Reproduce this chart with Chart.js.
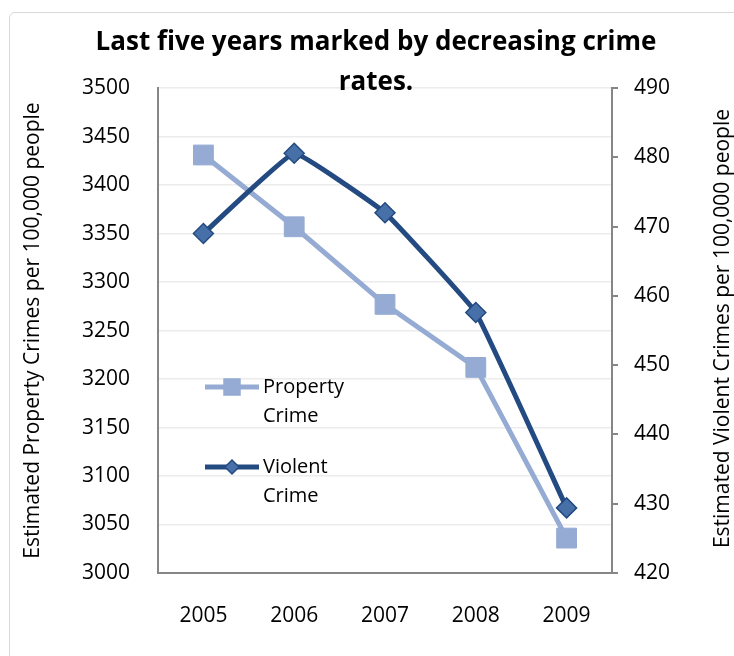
<!DOCTYPE html>
<html>
<head>
<meta charset="utf-8">
<script src="https://cdn.jsdelivr.net/npm/chart.js@4"></script>
<style>
  body { margin: 0; background: #fff; overflow: hidden; }
  .frame { position: absolute; left: 9px; top: 12px; width: 760px; height: 680px;
           border: 1.5px solid #d9d9d9; border-radius: 6px; }
  .wrap { position: absolute; left: 0; top: 0; width: 734px; height: 656px; }
</style>
</head>
<body>
<div class="frame"></div>
<div class="wrap"><canvas id="chart" width="734" height="656"></canvas></div>
<script>
const years = ["2005", "2006", "2007", "2008", "2009"];
const propertyCrime = [3431, 3357, 3277, 3212, 3036];
const violentCrime = [469.0, 480.6, 472.0, 457.6, 429.4];
const titleLines = ["Last five years marked by decreasing crime", "rates."];
const leftTitle = "Estimated Property Crimes per 100,000 people";
const rightTitle = "Estimated Violent Crimes per 100,000 people";

const lightBlue = "#95abd3";
const darkBlue = "#244b81";
const diamondFill = "#4770a9";
const axisGray = "#868686";

Chart.defaults.font.family = "'Open Sans', sans-serif";
Chart.defaults.color = "#000";

// right axis title reads bottom-to-top, and the legend wraps its text
const extras = {
    id: "extras",
    afterDraw(chart) {
        const ctx = chart.ctx;
        const area = chart.chartArea;
        ctx.save();
        ctx.fillStyle = "#000";
        ctx.font = "21px 'Open Sans'";
        ctx.textAlign = "center";
        ctx.textBaseline = "middle";
        ctx.translate(723, (area.top + area.bottom) / 2 - 2);
        ctx.rotate(-Math.PI / 2);
        ctx.fillText(rightTitle, 0, 0);
        ctx.restore();

        const items = [
            { ds: chart.data.datasets[1], y: 387, lines: ["Property", "Crime"] },
            { ds: chart.data.datasets[0], y: 467, lines: ["Violent", "Crime"] }
        ];
        ctx.save();
        items.forEach(it => {
            ctx.strokeStyle = it.ds.borderColor;
            ctx.lineWidth = it.ds.borderWidth;
            ctx.beginPath();
            ctx.moveTo(205, it.y);
            ctx.lineTo(259, it.y);
            ctx.stroke();
            ctx.fillStyle = it.ds.pointBackgroundColor;
            ctx.strokeStyle = it.ds.pointBorderColor;
            ctx.lineWidth = 1.5;
            ctx.beginPath();
            if (it.ds.pointStyle === "rect") {
                ctx.rect(224, it.y - 8, 16, 16);
            } else {
                ctx.moveTo(232 - 7, it.y);
                ctx.lineTo(232, it.y - 7);
                ctx.lineTo(232 + 7, it.y);
                ctx.lineTo(232, it.y + 7);
                ctx.closePath();
            }
            ctx.fill();
            ctx.stroke();
            ctx.fillStyle = "#000";
            ctx.font = "20px 'Open Sans'";
            ctx.textAlign = "left";
            ctx.textBaseline = "middle";
            it.lines.forEach((t, i) => ctx.fillText(t, 263, it.y + i * 29));
        });
        ctx.restore();
    }
};

new Chart(document.getElementById("chart"), {
    type: "line",
    data: {
        labels: years,
        datasets: [
            {
                label: "Violent Crime",
                data: violentCrime,
                yAxisID: "y1",
                borderColor: darkBlue,
                borderWidth: 5,
                tension: 0.08,
                pointStyle: "rectRot",
                pointRadius: 10,
                pointBackgroundColor: diamondFill,
                pointBorderColor: darkBlue,
                pointBorderWidth: 1.5,
                order: 0
            },
            {
                label: "Property Crime",
                data: propertyCrime,
                yAxisID: "y",
                borderColor: lightBlue,
                borderWidth: 5,
                tension: 0,
                pointStyle: "rect",
                pointRadius: 14,
                pointBackgroundColor: lightBlue,
                pointBorderColor: lightBlue,
                pointBorderWidth: 1,
                order: 1
            }
        ]
    },
    options: {
        responsive: false,
        animation: false,
        layout: { padding: { left: 18, right: 0, top: 0, bottom: 0 } },
        plugins: {
            legend: { display: false },
            tooltip: { enabled: false },
            title: {
                display: true,
                text: titleLines,
                color: "#000",
                font: { size: 26, weight: "bold", lineHeight: 1.54 },
                padding: { top: 23, bottom: -15 }
            }
        },
        scales: {
            x: {
                offset: true,
                grid: { display: false, drawTicks: false },
                border: { color: axisGray, width: 2 },
                ticks: { font: { size: 21 }, padding: 30 },
                afterFit(scale) { scale.height = 83; }
            },
            y: {
                position: "left",
                min: 3000,
                max: 3500,
                ticks: { stepSize: 50, font: { size: 21 }, padding: 28, format: { useGrouping: false } },
                grid: { color: "#ececec", lineWidth: 1.5, drawTicks: false },
                border: { color: axisGray, width: 2 },
                title: {
                    display: true,
                    text: leftTitle,
                    font: { size: 21 },
                    padding: { top: 2, bottom: 0 }
                },
                afterFit(scale) { scale.width = 140; }
            },
            y1: {
                position: "right",
                min: 420,
                max: 490,
                ticks: { stepSize: 10, font: { size: 21 }, padding: 16, format: { useGrouping: false } },
                grid: { drawOnChartArea: false, drawTicks: true, tickLength: 6, color: axisGray, lineWidth: 2 },
                border: { color: axisGray, width: 2 },
                afterFit(scale) { scale.width = 122; }
            }
        }
    },
    plugins: [extras]
});
</script>
</body>
</html>
